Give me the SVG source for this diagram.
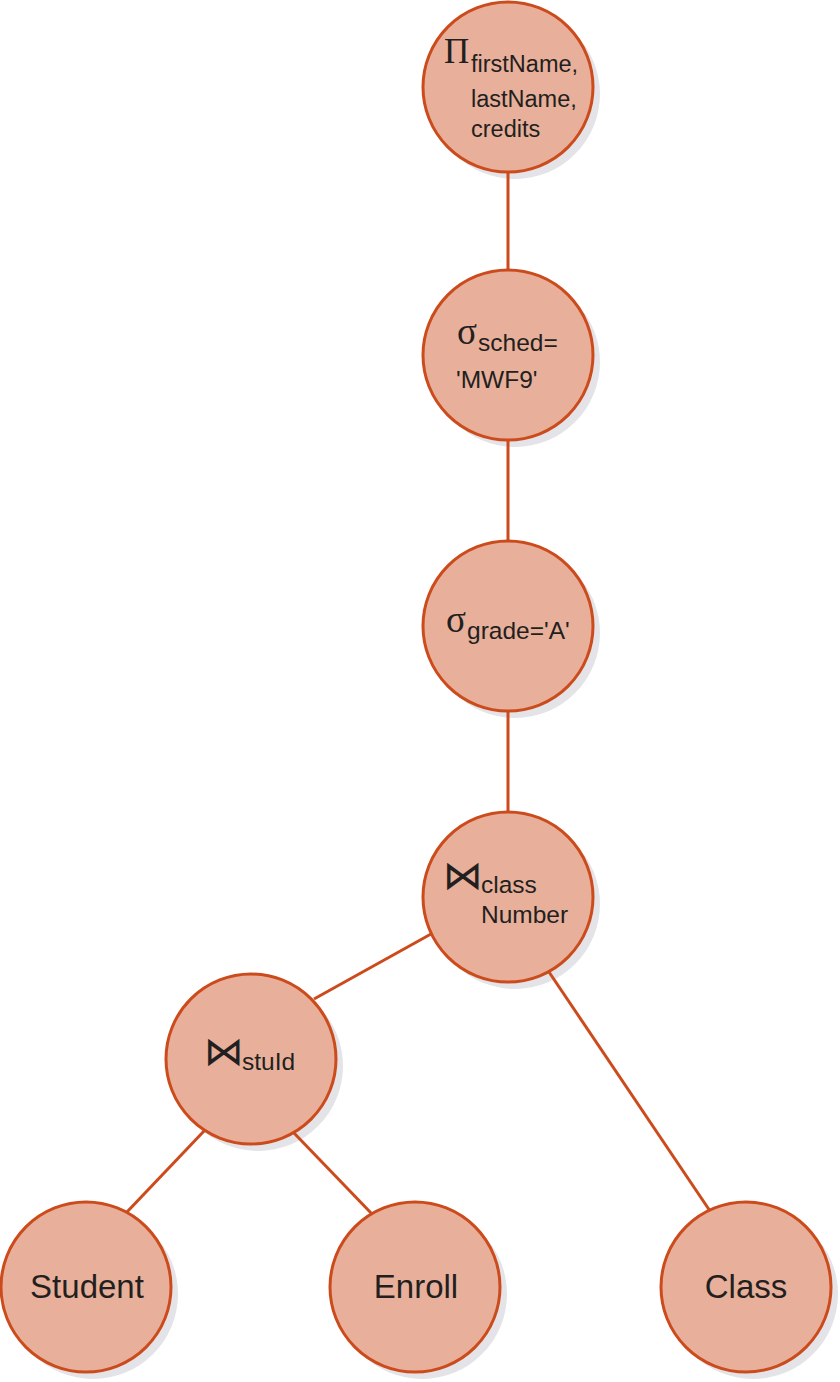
<svg xmlns="http://www.w3.org/2000/svg" width="840" height="1382" viewBox="0 0 840 1382">
<style>
.sh{fill:#e3e3e8}
.nd{fill:#e8b09a;stroke:#cc4b1c;stroke-width:3}
.ln{stroke:#cc4b1c;stroke-width:3;fill:none}
.t{font-family:"Liberation Sans",Arial,sans-serif;fill:#231f20}
.s{font-family:"Liberation Serif","Times New Roman",serif;fill:#231f20}
.b{font-family:"DejaVu Sans",sans-serif;fill:#231f20}
</style>
<rect width="840" height="1382" fill="#ffffff"/>
<g id="shadows">
<circle class="sh" cx="515" cy="94" r="85"/>
<circle class="sh" cx="515" cy="362" r="85"/>
<circle class="sh" cx="515" cy="633" r="85"/>
<circle class="sh" cx="515" cy="904" r="85"/>
<circle class="sh" cx="258" cy="1066" r="85"/>
<circle class="sh" cx="93" cy="1294" r="85"/>
<circle class="sh" cx="422" cy="1294" r="85"/>
<circle class="sh" cx="753" cy="1294" r="85"/>
</g>
<g id="connectors">
<line class="ln" x1="508" y1="172" x2="508" y2="270"/>
<line class="ln" x1="508" y1="440" x2="508" y2="541"/>
<line class="ln" x1="508" y1="711" x2="508" y2="812"/>
<line class="ln" x1="431" y1="934" x2="314" y2="999"/>
<line class="ln" x1="549" y1="972" x2="710" y2="1211"/>
<line class="ln" x1="205" y1="1130" x2="126" y2="1213"/>
<line class="ln" x1="294" y1="1133" x2="372" y2="1214"/>
</g>
<g id="n-project">
<circle class="nd" cx="508" cy="87" r="85"/>
<text class="s" x="444" y="63" font-size="35">Π</text>
<text class="t" x="471" y="72" font-size="23.5">firstName,</text>
<text class="t" x="471" y="107" font-size="23.5">lastName,</text>
<text class="t" x="471" y="137" font-size="23.5">credits</text>
</g>
<g id="n-sched">
<circle class="nd" cx="508" cy="355" r="85"/>
<text class="s" x="457" y="344" font-size="37">σ</text>
<text class="t" x="478" y="351" font-size="24.5">sched=</text>
<text class="t" x="456" y="388" font-size="24.5">'MWF9'</text>
</g>
<g id="n-grade">
<circle class="nd" cx="508" cy="626" r="85"/>
<text class="s" x="446" y="632" font-size="37">σ</text>
<text class="t" x="467" y="639" font-size="24.5">grade='A'</text>
</g>
<g id="n-join-class">
<circle class="nd" cx="508" cy="897" r="85"/>
<text class="b" x="443" y="889" font-size="40">⋈</text>
<text class="t" x="481" y="893" font-size="24.5">class</text>
<text class="t" x="481" y="923" font-size="24.5">Number</text>
</g>
<g id="n-join-stu">
<circle class="nd" cx="251" cy="1059" r="85"/>
<text class="b" x="204" y="1065" font-size="40">⋈</text>
<text class="t" x="242" y="1070" font-size="24.5">stuId</text>
</g>
<g id="n-student">
<circle class="nd" cx="86" cy="1287" r="85"/>
<text class="t" x="87" y="1298" font-size="33" text-anchor="middle">Student</text>
</g>
<g id="n-enroll">
<circle class="nd" cx="415" cy="1287" r="85"/>
<text class="t" x="416" y="1298" font-size="33" text-anchor="middle">Enroll</text>
</g>
<g id="n-class">
<circle class="nd" cx="746" cy="1287" r="85"/>
<text class="t" x="746" y="1298" font-size="33" text-anchor="middle">Class</text>
</g>
</svg>
